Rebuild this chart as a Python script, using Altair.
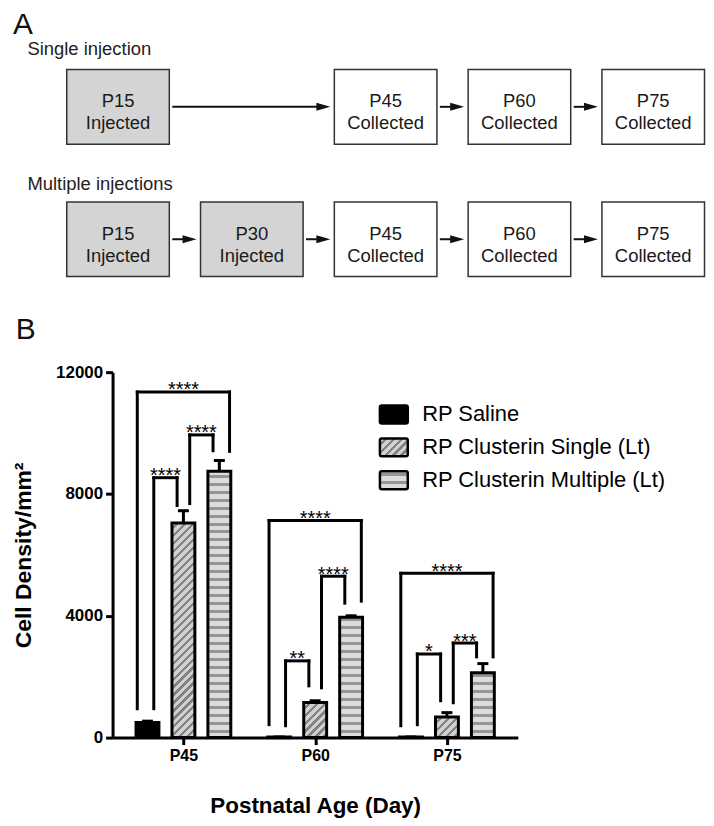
import json
import math
import altair as alt
import pandas as pd

# ---------------- Panel A: injection schedule ----------------
STAGES = ["P15", "P30", "P45", "P60", "P75"]
STAGE_DAYS = [15, 30, 45, 60, 75]
STAGE_ACTIONS = ["Injected", "Injected", "Collected", "Collected", "Collected"]
ROWS = ["Single injection", "Multiple injections"]
SINGLE_SCHEDULE = ["P15", "P45", "P60", "P75"]
MULTIPLE_SCHEDULE = ["P15", "P30", "P45", "P60", "P75"]

# ---------------- Panel B: cell density ----------------
AGES = ["P45", "P60", "P75"]
GROUPS = ["RP Saline", "RP Clusterin Single (Lt)", "RP Clusterin Multiple (Lt)"]
SALINE_MEAN = [500, 20, 20]
SALINE_SEM = [40, 0, 0]
SINGLE_MEAN = [7050, 1150, 680]
SINGLE_SEM = [400, 60, 140]
MULTIPLE_MEAN = [8750, 3950, 2130]
MULTIPLE_SEM = [350, 50, 300]

# significance brackets (group from -> group to, bracket top, leg ends)
BR_AGE = ["P45", "P45", "P45", "P60", "P60", "P60", "P75", "P75", "P75"]
BR_FROM = [GROUPS[0], GROUPS[0], GROUPS[1]] * 3
BR_TO = [GROUPS[2], GROUPS[1], GROUPS[2]] * 3
BR_TOP = [11350, 8535, 9940, 7130, 2520, 5300, 5395, 2745, 3105]
BR_FROM_END = [950, 950, 7685, 425, 390, 1635, 390, 425, 1145]
BR_TO_END = [9400, 7620, 9420, 4480, 1700, 4415, 2650, 1210, 2650]
BR_STARS = ["****", "****", "****", "****", "**", "****", "****", "*", "***"]

# ---------------- layout / style constants ----------------
FONT = "Liberation Sans"
A_W, A_H = 592, 208
DAY_DOMAIN = [14.386, 80.47]
BOX_HALF = 5.75
GAP0, GAP1 = 0.33, 0.45
B_W, B_H = 407, 367
Y_MAX = 12000
UNIT = B_W / 3.0
DODGE = 37 / UNIT
BAR_W = 23
OUT_OFF = 10.5 / UNIT
IN_OFF = 6.5 / UNIT


def hstripes(h, period=8.0, dark=3.0, light="#dcdcdc", darkc="#959595"):
    n = max(1, int(math.ceil(h / period)))
    stops = []
    for k in range(n):
        a = k * period / h
        b = (k * period + period - dark) / h
        c = (k + 1) * period / h
        for off, col in ((a, light), (b, light), (b, darkc), (c, darkc)):
            stops.append({"offset": round(min(max(off, 0.0), 1.0), 4), "color": col})
    return {"gradient": "linear", "x1": 0, "y1": 1, "x2": 0, "y2": 0, "stops": stops}


def dstripes(w, h, period=8.0, frac=0.4, light="#d2d2d2", darkc="#838383"):
    L = w + h
    c = L / (w * w + h * h)
    n = max(1, int(math.ceil(L / period)))
    stops = []
    for k in range(n):
        a = k * period / L
        b = (k * period + period * (1 - frac)) / L
        cc = (k + 1) * period / L
        for off, col in ((a, light), (b, light), (b, darkc), (cc, darkc)):
            stops.append({"offset": round(min(max(off, 0.0), 1.0), 4), "color": col})
    return {"gradient": "linear", "x1": 0, "y1": 0, "x2": round(w * c, 5), "y2": round(h * c, 5), "stops": stops}


# ---------------- Panel A tables ----------------
box_rows = []
arrow_rows = []
for row, sched in zip(ROWS, [SINGLE_SCHEDULE, MULTIPLE_SCHEDULE]):
    for s in sched:
        i = STAGES.index(s)
        box_rows.append({"row": row, "stage": s, "day": STAGE_DAYS[i], "action": STAGE_ACTIONS[i]})
    for s0, s1 in zip(sched[:-1], sched[1:]):
        arrow_rows.append({"row": row, "d0": STAGE_DAYS[STAGES.index(s0)], "d1": STAGE_DAYS[STAGES.index(s1)]})
boxes = pd.DataFrame(box_rows)
arrows = pd.DataFrame(arrow_rows)

xA_scale = alt.Scale(domain=DAY_DOMAIN, nice=False, zero=False)
yA = alt.Y(
    "row:N",
    scale=alt.Scale(domain=ROWS, paddingInner=0.436, paddingOuter=0),
    axis=alt.Axis(domain=False, ticks=False, tickSize=0, labelAlign="left", labelBaseline="alphabetic",
                  labelPadding=86,
                  labelOffset={"condition": {"test": f"datum.value === '{ROWS[1]}'", "value": -49}, "value": -52},
                  labelFontSize=18.5, labelColor="#222222",
                  labelFont=FONT, title=None, labelLimit=300),
)

box_base = alt.Chart(boxes).transform_calculate(
    x0=f"datum.day - {BOX_HALF}", x1=f"datum.day + {BOX_HALF}"
)
rects = box_base.mark_rect(stroke="#333333", strokeWidth=1.5).encode(
    x=alt.X("x0:Q", scale=xA_scale, axis=None),
    x2="x1:Q",
    y=yA,
    fill=alt.Fill("action:N", scale=alt.Scale(domain=["Injected", "Collected"], range=["#d4d4d4", "#ffffff"]), legend=None),
)
txt1 = box_base.mark_text(baseline="alphabetic", dy=0.5, fontSize=18.5, color="#1a1a1a", font=FONT).encode(
    x=alt.X("day:Q", scale=xA_scale, axis=None), y=yA, text="stage:N"
)
txt2 = box_base.mark_text(baseline="alphabetic", dy=22.5, fontSize=18.5, color="#1a1a1a", font=FONT).encode(
    x=alt.X("day:Q", scale=xA_scale, axis=None), y=yA, text="action:N"
)
arr_base = alt.Chart(arrows).transform_calculate(
    xs=f"datum.d0 + {BOX_HALF} + {GAP0}",
    xe=f"datum.d1 - {BOX_HALF} - {GAP1}",
    xe2=f"datum.d1 - {BOX_HALF} - {GAP1} - 1",
)
shafts = arr_base.mark_rule(color="#111111", strokeWidth=2).encode(
    x=alt.X("xs:Q", scale=xA_scale, axis=None), x2="xe2:Q", y=yA
)
heads = arr_base.mark_point(shape="M-2,-0.57L0,0L-2,0.57Z", size=196, filled=True, color="#111111",
                            opacity=1, strokeWidth=0).encode(
    x=alt.X("xe:Q", scale=xA_scale, axis=None), y=yA
)
panel_a = alt.layer(rects, txt1, txt2, shafts, heads).properties(
    width=A_W, height=A_H,
    title=alt.Title("A", anchor="start", fontSize=30, fontWeight="normal", font=FONT, color="#111111",
                    offset=0, dx=-14),
)

# ---------------- Panel B tables ----------------
bar_rows = []
for g, means, sems in zip(GROUPS, [SALINE_MEAN, SINGLE_MEAN, MULTIPLE_MEAN], [SALINE_SEM, SINGLE_SEM, MULTIPLE_SEM]):
    for a, m, s in zip(AGES, means, sems):
        bar_rows.append({"age": a, "group": g, "mean": m, "sem": s})
bars_df = pd.DataFrame(bar_rows)
br_df = pd.DataFrame({"age": BR_AGE, "g0": BR_FROM, "g1": BR_TO, "top": BR_TOP,
                      "end0": BR_FROM_END, "end1": BR_TO_END, "stars": BR_STARS})

AGES_J = json.dumps(AGES)
GROUPS_J = json.dumps(GROUPS)

x_axis = alt.Axis(values=[0, 1, 2], labelExpr=f"{AGES_J}[datum.value]", title="Postnatal Age (Day)",
                  domainColor="black", domainWidth=3, tickColor="black", tickWidth=3, tickSize=7,
                  labelFont=FONT, labelFontSize=16, labelFontWeight="bold", labelColor="black", labelPadding=3,
                  titleFont=FONT, titleFontSize=22.5, titleFontWeight="bold", titleColor="black", titlePadding=31,
                  grid=False)
y_axis = alt.Axis(values=[0, 4000, 8000, 12000], format="d", title="Cell Density/mm²",
                  domainColor="black", domainWidth=3, tickColor="black", tickWidth=3, tickSize=7,
                  labelFont=FONT, labelFontSize=17, labelFontWeight="bold", labelColor="black", labelPadding=3,
                  titleFont=FONT, titleFontSize=23, titleFontWeight="bold", titleColor="black", titlePadding=20,
                  grid=False)
xB_scale = alt.Scale(domain=[-0.5, 2.5], nice=False, zero=False)
yB_scale = alt.Scale(domain=[0, Y_MAX], nice=False)


def xB(field):
    return alt.X(field, scale=xB_scale, axis=x_axis)


def yB(field):
    return alt.Y(field, scale=yB_scale, axis=y_axis, stack=None)


# per-bar pattern fills (stripe geometry depends on bar size in pixels)
conditions = []
for g_i, means in ((1, SINGLE_MEAN), (2, MULTIPLE_MEAN)):
    for a, m in zip(AGES, means):
        h = m * B_H / Y_MAX
        grad = dstripes(BAR_W, h) if g_i == 1 else hstripes(h)
        conditions.append({"test": f"datum.age === '{a}' && datum.group === '{GROUPS[g_i]}'", "value": grad})

SWATCH = ("M-0.857,-0.643H0.857Q1,-0.643,1,-0.5V0.5Q1,0.643,0.857,0.643H-0.857Q-1,0.643,-1,0.5V-0.5"
          "Q-1,-0.643,-0.857,-0.643Z")
fill_def = {
    "field": "group",
    "type": "nominal",
    "scale": {"domain": GROUPS,
              "range": ["#000000", {"expr": json.dumps(dstripes(28, 18))}, {"expr": json.dumps(hstripes(18))}]},
    "legend": {"orient": "none", "legendX": 267, "legendY": 27, "title": None, "symbolType": SWATCH,
               "symbolSize": 784, "symbolStrokeColor": "black", "symbolStrokeWidth": 2.5,
               "labelFont": FONT, "labelFontSize": 22, "labelColor": "black", "labelOffset": 13,
               "rowPadding": 3, "padding": 0, "labelLimit": 400},
    "condition": conditions,
}

bar_base = alt.Chart(bars_df).transform_calculate(
    ai=f"indexof({AGES_J}, datum.age)",
    gi=f"indexof({GROUPS_J}, datum.group)",
).transform_calculate(
    xpos=f"datum.ai + (datum.gi - 1) * {DODGE}",
    hi="datum.mean + datum.sem",
)
stems = bar_base.mark_rule(color="black", strokeWidth=3).encode(x=xB("xpos:Q"), y=yB("mean:Q"), y2="hi:Q")
caps = bar_base.mark_tick(orient="horizontal", size=11, thickness=3, color="black", opacity=1).encode(
    x=xB("xpos:Q"), y=yB("hi:Q"))
bars = bar_base.mark_bar(size=BAR_W, stroke="black", strokeWidth=3, orient="vertical", opacity=1).encode(
    x=xB("xpos:Q"), y=yB("mean:Q"), fill=fill_def)

br_base = alt.Chart(br_df).transform_calculate(
    ai=f"indexof({AGES_J}, datum.age)",
    ga=f"indexof({GROUPS_J}, datum.g0)",
    gb=f"indexof({GROUPS_J}, datum.g1)",
).transform_calculate(
    outer="(datum.gb - datum.ga) > 1",
).transform_calculate(
    xl=f"datum.ai + (datum.ga - 1) * {DODGE} + (datum.outer ? {-OUT_OFF} : {IN_OFF})",
    xr=f"datum.ai + (datum.gb - 1) * {DODGE} + (datum.outer ? {OUT_OFF} : {-IN_OFF})",
).transform_calculate(
    xm="(datum.xl + datum.xr) / 2",
)
leg0 = br_base.mark_rule(color="black", strokeWidth=3, strokeCap="square").encode(
    x=xB("xl:Q"), y=yB("end0:Q"), y2="top:Q")
leg1 = br_base.mark_rule(color="black", strokeWidth=3, strokeCap="square").encode(
    x=xB("xr:Q"), y=yB("end1:Q"), y2="top:Q")
topbar = br_base.mark_rule(color="black", strokeWidth=3, strokeCap="square").encode(
    x=xB("xl:Q"), x2="xr:Q", y=yB("top:Q"))
stars = br_base.mark_text(baseline="alphabetic", dy=4.5, fontSize=20, color="black", font=FONT).encode(
    x=xB("xm:Q"), y=yB("top:Q"), text="stars:N")

panel_b = alt.layer(stems, caps, bars, leg0, leg1, topbar, stars).properties(
    width=B_W, height=B_H,
    title=alt.Title("B", anchor="start", fontSize=30, fontWeight="normal", font=FONT, color="#111111",
                    offset=18, dx=3),
)

chart = (
    alt.concat(panel_a, panel_b, columns=1, align="none", spacing=38)
    .resolve_scale(fill="independent")
    .resolve_legend(fill="independent")
    .properties(padding={"left": 4, "top": 0, "right": 0, "bottom": 0})
    .configure(font=FONT)
    .configure_view(stroke=None)
)

chart.save("out.html", embed_options={"renderer": "svg", "actions": False})
